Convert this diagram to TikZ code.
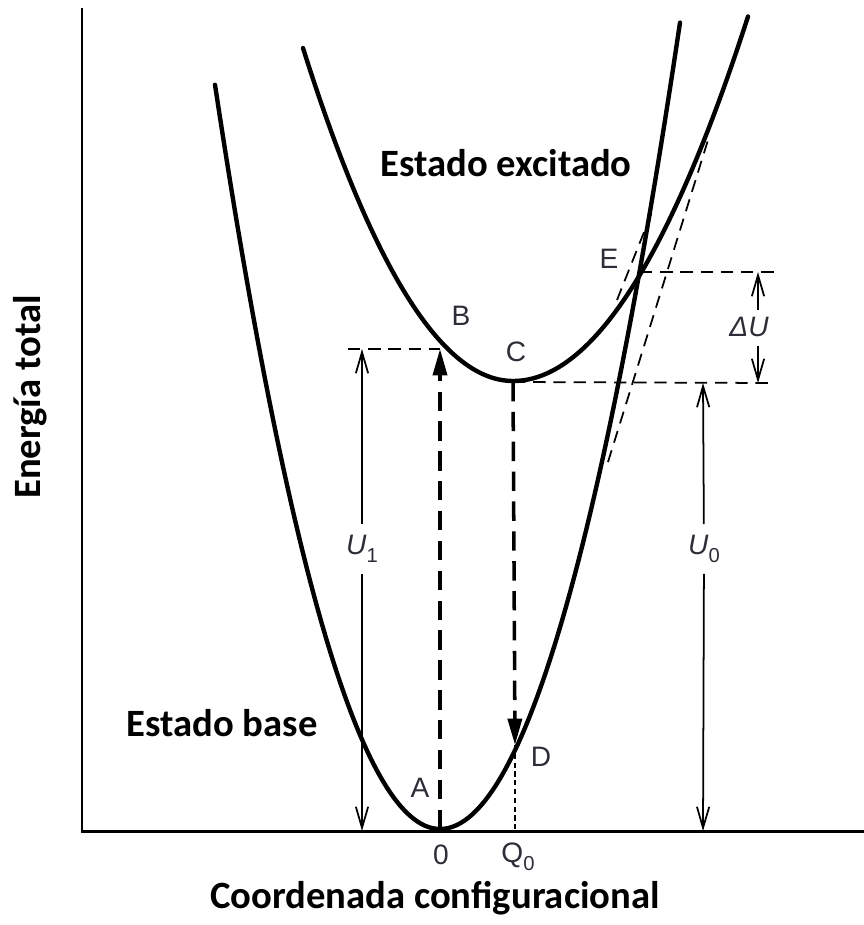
\documentclass[tikz,border=0pt]{standalone}
\usepackage{fontspec}
\setmainfont{Liberation Sans}
\newfontfamily\titlefont{Carlito}
\usetikzlibrary{arrows.meta,positioning,calc}
\definecolor{lblgray}{RGB}{45,45,55}
\newcommand{\lowidx}[1]{\raisebox{-0.3em}{\upshape\fontsize{11.5pt}{12pt}\selectfont #1}}

\begin{document}
\begin{tikzpicture}[x=0.02cm,y=-0.02cm,
        curve/.style={line width=2.5pt,line cap=round},
        axis/.style={line width=1.7pt},
        guide/.style={line width=1pt,dash pattern=on 7pt off 4.5pt},
        jump/.style={line width=2pt,dash pattern=on 11pt off 6pt,-{Triangle[length=15pt,width=8pt]}},
        dim/.style={line width=1pt,-{Straight Barb[length=12pt,width=7pt]}},
        pt/.style={font=\fontsize{16pt}{18pt}\selectfont,text=lblgray,inner sep=0pt},
        dimlabel/.style={pt,inner sep=6pt},
        big/.style={font=\titlefont\bfseries\fontsize{22pt}{24pt}\selectfont}]
    \useasboundingbox (0,0) rectangle (864,925);

    % axes
    \coordinate (origin) at (82,831);
    \coordinate (ytop) at (82,8);
    \coordinate (xend) at (864,831);
    \draw[axis] (ytop) -- (origin) -- (xend);

    % the two energy curves
    \draw[curve] plot[domain=215:440,samples=60] (\x,{829-147*((\x-440)/100)^2})
        -- plot[domain=440:680,samples=60] (\x,{829-140*((\x-440)/100)^2});
    \draw[curve] plot[domain=303:513,samples=60] (\x,{381-75.5*((\x-513)/100)^2})
        -- plot[domain=513:748,samples=60] (\x,{381-66*((\x-513)/100)^2});

    % points on the curves
    \coordinate (A) at (440,829);
    \coordinate (B) at (440,349);
    \coordinate (C) at (513,382);
    \coordinate (D) at (515,745);
    \coordinate (E) at (640,272);
    \coordinate (Q) at (515,831);

    % guide lines
    \coordinate (bleft) at (348,349);
    \coordinate (cright) at (770,383);
    \coordinate (eright) at (780,272);
    \draw[guide] (bleft) -- (B);
    \draw[guide] (C) -- (cright);
    \draw[guide] (E) -- (eright);
    \coordinate (ta) at (617,300);
    \coordinate (tb) at (652,212);
    \coordinate (tc) at (608,462);
    \coordinate (td) at (708,140);
    \draw[guide] (ta) -- (tb);
    \draw[guide] (tc) -- (td);

    % transitions
    \draw[jump] (A) -- (B);
    \draw[jump] (C) -- (D);
    \draw[line width=1pt,dash pattern=on 3pt off 2pt] (D) -- (Q);

    % energies
    \node[dimlabel] (U1) at (362,549) {\itshape U\lowidx{1}};
    \coordinate (u1top) at (362,349);
    \coordinate (u1bot) at (362,831);
    \draw[dim] (U1) -- (u1top);
    \draw[dim] (U1) -- (u1bot);

    \node[dimlabel] (U0) at (704,549) {\itshape U\lowidx{0}};
    \coordinate (u0top) at (703,383);
    \coordinate (u0bot) at (703,831);
    \draw[dim] (U0) -- (u0top);
    \draw[dim] (U0) -- (u0bot);

    \node[pt] (dU) at (749,327) {\itshape ΔU};
    \coordinate (du1) at (758,310);
    \coordinate (du2) at (758,346);
    \coordinate (dutop) at (758,272);
    \coordinate (dubot) at (758,383);
    \draw[dim] (du1) -- (dutop);
    \draw[dim] (du2) -- (dubot);

    % point labels
    \node[pt] (labA) at (420,788) {A};
    \node[pt] (labB) at (461,316) {B};
    \node[pt] (labC) at (516,352) {C};
    \node[pt] (labD) at (541,757) {D};
    \node[pt] (labE) at (609,259) {E};
    \node[pt] (zero) at (441,855) {0};
    \node[pt] (labQ) at (518,857) {Q\lowidx{0}};

    % titles
    \node[big] (excited) at (506,163) {Estado excitado};
    \node[big] (base) at (222,723) {Estado base};
    \node[big,rotate=90] (ylab) at (30,397) {Energía total};
    \node[big] (xlab) at (435,898) {Coordenada configuracional};
\end{tikzpicture}
\end{document}
